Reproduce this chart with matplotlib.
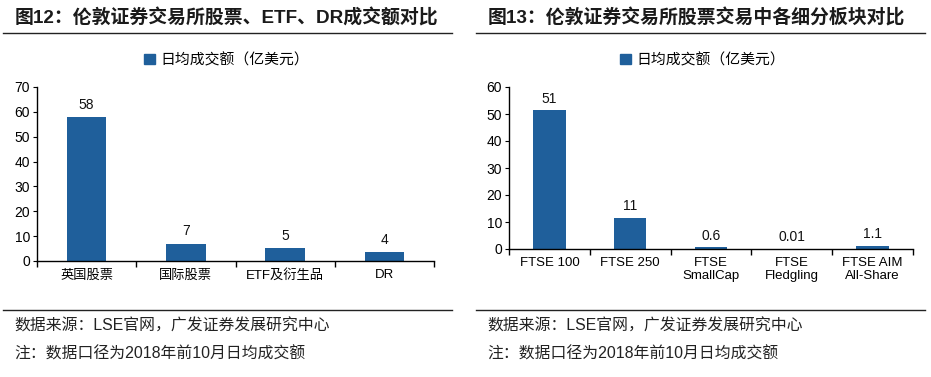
import matplotlib.pyplot as plt
from matplotlib.lines import Line2D
from matplotlib.patches import Patch

plt.rcParams['font.family'] = ['Liberation Sans', 'Noto Sans CJK SC', 'DejaVu Sans']

# 数据
cats_left = ["英国股票", "国际股票", "ETF及衍生品", "DR"]
vals_left = [58, 7, 5.1, 3.6]
labels_left = ["58", "7", "5", "4"]

cats_right = ["FTSE 100", "FTSE 250", "FTSE\nSmallCap", "FTSE\nFledgling", "FTSE AIM\nAll-Share"]
vals_right = [51.3, 11.4, 0.6, 0.01, 1.1]
labels_right = ["51", "11", "0.6", "0.01", "1.1"]

title_left = "图12：伦敦证券交易所股票、ETF、DR成交额对比"
title_right = "图13：伦敦证券交易所股票交易中各细分板块对比"
legend_name = "日均成交额（亿美元）"
source = "数据来源：LSE官网，广发证券发展研究中心"
note = "注：数据口径为2018年前10月日均成交额"

bar_color = "#1f5f9b"
W, H = 931, 377

fig = plt.figure(figsize=(W / 100, H / 100), dpi=100)


def px(x0, y0, x1, y1):
    # 像素坐标转 figure 坐标 (左, 下, 宽, 高)
    return [x0 / W, (H - y1) / H, (x1 - x0) / W, (y1 - y0) / H]


def panel(rect, cats, vals, labels, ymax, title, tx, line_x, legend_x):
    ax = fig.add_axes(rect)
    x = range(len(cats))
    ax.bar(x, vals, width=0.4, color=bar_color, zorder=2)
    for i, (v, lab) in enumerate(zip(vals, labels)):
        ax.text(i, v + ymax * 0.03, lab, ha='center', va='bottom', fontsize=10, color='#111111')
    ax.set_xlim(-0.5, len(cats) - 0.5)
    ax.set_ylim(0, ymax)
    ax.set_yticks(range(0, ymax + 1, 10))
    ax.set_xticks(x)
    ax.set_xticklabels(cats, fontsize=9.5, linespacing=1.1)
    ax.set_xticks([i - 0.5 for i in range(len(cats) + 1)], minor=True)
    ax.tick_params(axis='x', which='major', length=0, pad=6)
    ax.tick_params(axis='x', which='minor', length=4, direction='out', width=1)
    ax.tick_params(axis='y', length=3, direction='out', labelsize=10, pad=2)
    for s in ['top', 'right']:
        ax.spines[s].set_visible(False)
    for s in ['left', 'bottom']:
        ax.spines[s].set_color('black')
        ax.spines[s].set_linewidth(1)

    fig.text(tx / W, 1 - 18 / H, title, fontsize=13.6, fontweight='bold', color='#1a1a1a',
             ha='left', va='center')
    for yy in (33, 310):
        fig.add_artist(Line2D([line_x[0] / W, line_x[1] / W], [1 - yy / H, 1 - yy / H],
                              color='#222222', lw=1))
    fig.legend(handles=[Patch(color=bar_color)], labels=[legend_name],
               loc='center', bbox_to_anchor=(legend_x / W, 1 - 60 / H),
               frameon=False, handlelength=0.7, handleheight=0.7,
               handletextpad=0.4, prop={'family': ['Noto Sans CJK SC'], 'size': 10.7})
    fig.text((tx - 1) / W, 1 - 326 / H, source, fontsize=11.4, color='#222222', va='center')
    fig.text((tx - 1) / W, 1 - 354 / H, note, fontsize=11.4, color='#222222', va='center')
    return ax


panel(px(37, 87, 434, 261), cats_left, vals_left, labels_left, 70,
      title_left, 15, (3, 452), 227)
panel(px(509, 87, 913, 249), cats_right, vals_right, labels_right, 60,
      title_right, 488, (476, 925), 703)

fig.savefig("out.png", dpi=100, facecolor='white')
